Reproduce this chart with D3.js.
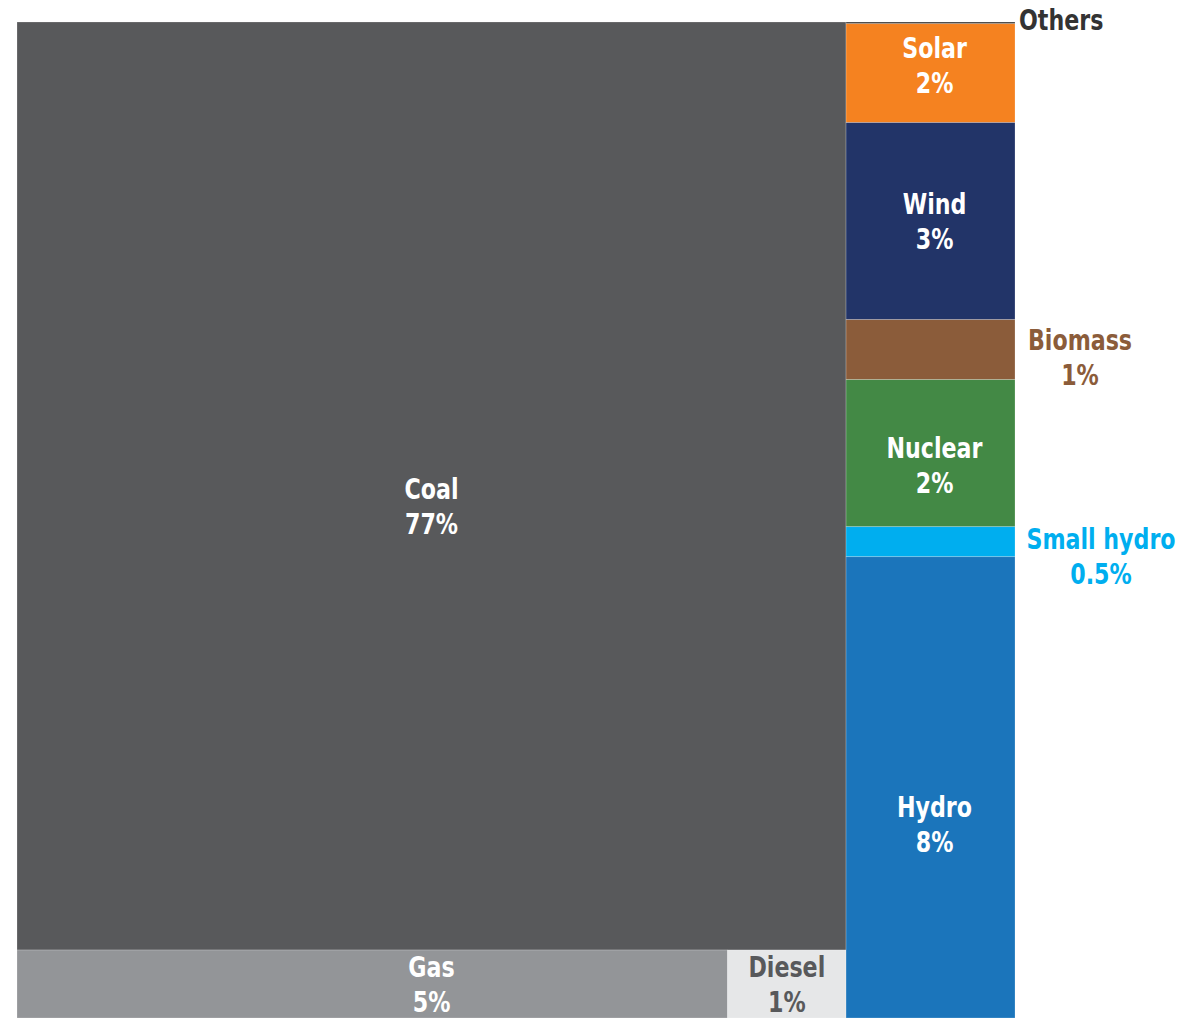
<html>
<head>
<meta charset="utf-8">
<title>Power mix</title>
<style>
  body { margin: 0; background: #fff; }
  text { font-family: "Liberation Sans Narrow", "DejaVu Sans Condensed", sans-serif; font-weight: bold; }
</style>
</head>
<body>
<svg width="1181" height="1018"></svg>
<script src="https://d3js.org/d3.v7.min.js"></script>
<script>

// left column: coal on top, gas + diesel underneath
var leftNames = ["Coal", "Gas", "Diesel"];
var leftShares = [77.4, 4.86, 0.81];
var leftLabels = ["77%", "5%", "1%"];

// right column, top to bottom
var rightNames = ["Others", "Solar", "Wind", "Biomass", "Nuclear", "Small hydro", "Hydro"];
var rightShares = [0.03, 1.68, 3.35, 1.02, 2.5, 0.51, 7.84];
var rightLabels = ["", "2%", "3%", "1%", "2%", "0.5%", "8%"];

var colors = {
  "Coal": "#58595b", "Gas": "#939598", "Diesel": "#e6e7e8",
  "Others": "#3a3a3a", "Solar": "#f58220", "Wind": "#223468",
  "Biomass": "#8b5c3a", "Nuclear": "#438945", "Small hydro": "#00aeef", "Hydro": "#1b75bb"
};
var textColors = { "Diesel": "#58595b" };
// small cells get their label outside, to the right
var outside = { "Others": 1, "Biomass": 1, "Small hydro": 1 };
var shiftY = { "Coal": 20, "Hydro": 37, "Solar": -8, "Nuclear": 12 };

var tree = {
  name: "root",
  children: [
    { name: "left", children: [
        { name: leftNames[0], value: leftShares[0], label: leftLabels[0] },
        { name: "bottom", children: [
            { name: leftNames[1], value: leftShares[1], label: leftLabels[1] },
            { name: leftNames[2], value: leftShares[2], label: leftLabels[2] }
        ]}
    ]},
    { name: "right", children: rightNames.map(function(n, i) {
        return { name: n, value: rightShares[i], label: rightLabels[i] };
    })}
  ]
};

var root = d3.hierarchy(tree).sum(function(d) { return d.value || 0; });

d3.treemap()
  .tile(d3.treemapSliceDice)
  .size([998, 996])
  (root);

var svg = d3.select("svg");
var g = svg.append("g").attr("transform", "translate(17,22)");

var leaves = root.leaves();

g.selectAll("rect")
  .data(leaves)
  .enter()
  .append("rect")
  .attr("x", function(d) { return d.x0; })
  .attr("y", function(d) { return d.y0; })
  .attr("width", function(d) { return d.x1 - d.x0; })
  .attr("height", function(d) { return d.y1 - d.y0; })
  .attr("fill", function(d) { return colors[d.data.name]; })
  .attr("stroke", "#fff")
  .attr("stroke-opacity", 0.35)
  .attr("stroke-width", 0.6);

var fs = 28, lh = 35, sx = 0.88;

var inside = leaves.filter(function(d) { return !outside[d.data.name]; });
var lab = g.selectAll("text.in")
  .data(inside)
  .enter()
  .append("text")
  .attr("class", "in")
  .attr("text-anchor", "middle")
  .attr("font-size", fs)
  .attr("fill", function(d) { return textColors[d.data.name] || "#fff"; })
  .attr("transform", function(d) {
    // gas label sits under the coal label, in the middle of the left column
    var box = d.data.name == "Gas" ? d.parent.parent : d;
    var cx = (box.x0 + box.x1) / 2 + (d.parent.data.name == "right" ? 4 : 0);
    var cy = (d.y0 + d.y1) / 2 + (shiftY[d.data.name] || 0);
    return "translate(" + cx + "," + (cy - 7) + ") scale(" + sx + ",1)";
  });
lab.append("tspan").attr("x", 0).attr("y", 0).text(function(d) { return d.data.name; });
lab.append("tspan").attr("x", 0).attr("y", lh).text(function(d) { return d.data.label; });

// outside labels
var ext = leaves.filter(function(d) { return outside[d.data.name]; });
var extText = g.selectAll("text.out")
  .data(ext)
  .enter()
  .append("text")
  .attr("class", "out")
  .attr("font-size", fs)
  .attr("fill", function(d) { return d.data.name == "Others" ? "#333" : colors[d.data.name]; })
  .attr("text-anchor", function(d) { return d.data.name == "Others" ? "start" : "middle"; })
  .attr("transform", function(d) {
    if (d.data.name == "Others") return "translate(" + (d.x1 + 4) + "," + (d.y0 + 8) + ") scale(" + sx + ",1)";
    var cx = d.x1 + (d.data.name == "Biomass" ? 65 : 86);
    var dy = d.data.name == "Biomass" ? 30 : 22;
    return "translate(" + cx + "," + (d.y0 + dy) + ") scale(" + sx + ",1)";
  });
extText.append("tspan").attr("x", 0).attr("y", 0).text(function(d) { return d.data.name; });
extText.append("tspan").attr("x", 0).attr("y", lh).text(function(d) { return d.data.label; });

</script>
</body>
</html>
